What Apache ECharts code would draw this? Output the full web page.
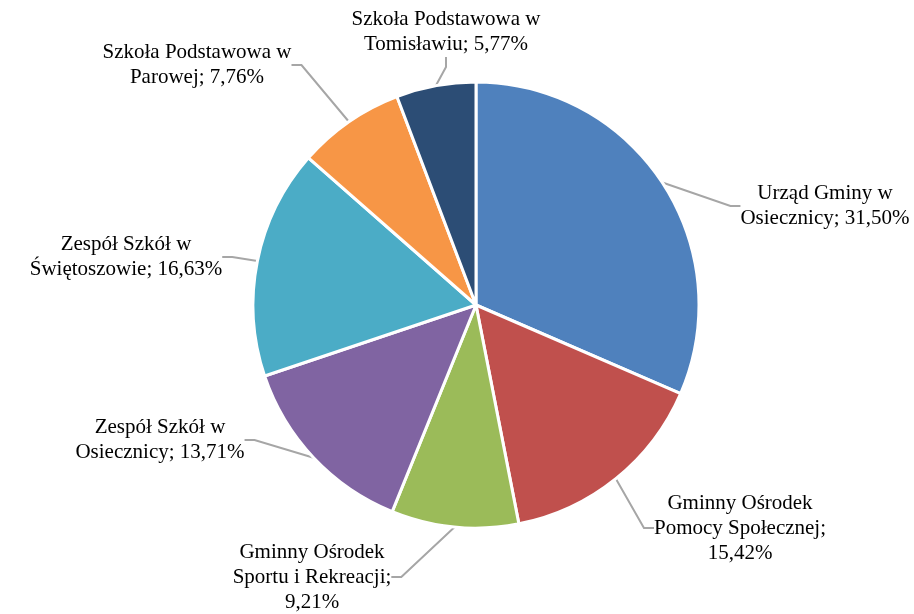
<!DOCTYPE html>
<html>
<head>
<meta charset="utf-8">
<script src="https://cdn.jsdelivr.net/npm/echarts@6/dist/echarts.min.js"></script>
<style>
  html, body { margin: 0; padding: 0; background: #fff; }
  #chart { width: 914px; height: 614px; }
</style>
</head>
<body>
<div id="chart"></div>
<script>
  // udział jednostek (%)
  var names = [
    'Urząd Gminy w Osiecznicy',
    'Gminny Ośrodek Pomocy Społecznej',
    'Gminny Ośrodek Sportu i Rekreacji',
    'Zespół Szkół w Osiecznicy',
    'Zespół Szkół w Świętoszowie',
    'Szkoła Podstawowa w Parowej',
    'Szkoła Podstawowa w Tomisławiu'
  ];
  var values = [31.50, 15.42, 9.21, 13.71, 16.63, 7.76, 5.77];
  var labels = [
    'Urząd Gminy w\nOsiecznicy; 31,50%',
    'Gminny Ośrodek\nPomocy Społecznej;\n15,42%',
    'Gminny Ośrodek\nSportu i Rekreacji;\n9,21%',
    'Zespół Szkół w\nOsiecznicy; 13,71%',
    'Zespół Szkół w\nŚwiętoszowie; 16,63%',
    'Szkoła Podstawowa w\nParowej; 7,76%',
    'Szkoła Podstawowa w\nTomisławiu; 5,77%'
  ];
  var colors = ['#4F81BD', '#C0504D', '#9BBB59', '#8064A2', '#4BACC6', '#F79646', '#2C4D75'];

  // srodki etykiet
  var labelPos = [
    [825, 206], [740, 528], [312, 577], [160, 440], [126, 257], [197, 65], [446, 32]
  ];

  var chart = echarts.init(document.getElementById('chart'));
  var option = {
    animation: false,
    series: [
      {
        type: 'pie',
        center: [476, 305],
        radius: 223,
        startAngle: 90,
        clockwise: true,
        itemStyle: { borderColor: '#fff', borderWidth: 3 },
        label: {
          show: true,
          position: 'outside',
          color: '#000',
          fontFamily: '"Liberation Serif", "Times New Roman", serif',
          fontSize: 21,
          lineHeight: 25,
          align: 'center',
          formatter: function (p) { return labels[p.dataIndex]; }
        },
        labelLine: {
          show: true,
          length: 20,
          length2: 10,
          lineStyle: { color: '#A6A6A6', width: 2 }
        },
        labelLayout: function (p) {
          var pos = labelPos[p.dataIndex];
          return { x: pos[0], y: pos[1], align: 'center', verticalAlign: 'middle' };
        },
        data: names.map(function (n, i) {
          return { name: n, value: values[i], itemStyle: { color: colors[i] } };
        })
      }
    ]
  };
  chart.setOption(option);
</script>
</body>
</html>
